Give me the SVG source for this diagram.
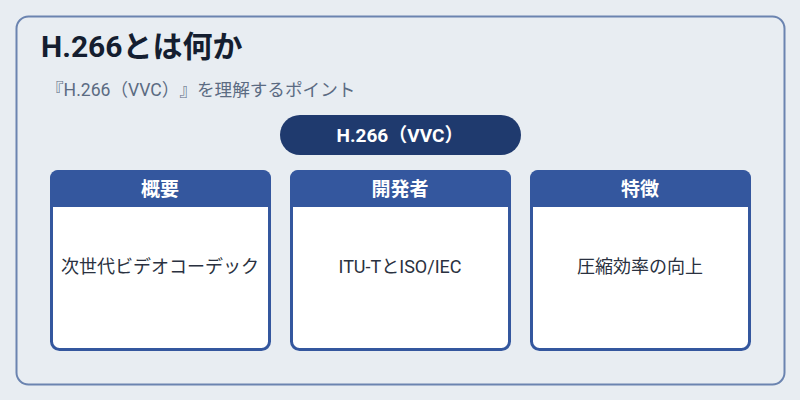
<svg xmlns="http://www.w3.org/2000/svg" width="800" height="400" viewBox="0 0 800 400">
<style>
text{font-family:Roboto,"Noto Sans CJK JP",sans-serif;text-spacing-trim:space-all}
.hdr{fill:#34579e}
.card{fill:#ffffff;stroke:#34579e;stroke-width:3}
.ht{fill:#ffffff;font-size:19px;font-weight:bold;text-anchor:middle}
.bt{fill:#2a3140;font-size:18px;text-anchor:middle}
</style>
<rect width="800" height="400" fill="#e8edf2"/>
<rect x="16.5" y="16.5" width="768" height="368" rx="12" fill="#e8edf2" stroke="#6b84b0" stroke-width="2"/>
<text x="41" y="57" font-size="30" font-weight="bold" fill="#141e30">H.266とは何か</text>
<text x="46" y="96" font-size="17.6" fill="#5b6b82">『H.266（VVC）』を理解するポイント</text>
<g id="root">
<rect x="280" y="115" width="241" height="40" rx="20" fill="#1f3a6e"/>
<text x="400" y="142" font-size="19" font-weight="bold" fill="#ffffff" text-anchor="middle">H.266（VVC）</text>
</g>
<g id="connectors"></g>
<g id="card1">
<rect class="card" x="51.5" y="171.5" width="218" height="178" rx="8"/>
<path class="hdr" d="M50,206 V178 a8,8 0 0 1 8,-8 H263 a8,8 0 0 1 8,8 V207 H50 Z"/>
<text class="ht" x="160" y="196">概要</text>
<text class="bt" x="160" y="273">次世代ビデオコーデック</text>
</g>
<g id="card2">
<rect class="card" x="291.5" y="171.5" width="218" height="178" rx="8"/>
<path class="hdr" d="M290,206 V178 a8,8 0 0 1 8,-8 H503 a8,8 0 0 1 8,8 V207 H290 Z"/>
<text class="ht" x="400" y="196">開発者</text>
<text class="bt" x="400" y="273">ITU-TとISO/IEC</text>
</g>
<g id="card3">
<rect class="card" x="531.5" y="171.5" width="218" height="178" rx="8"/>
<path class="hdr" d="M530,206 V178 a8,8 0 0 1 8,-8 H743 a8,8 0 0 1 8,8 V207 H530 Z"/>
<text class="ht" x="640" y="196">特徴</text>
<text class="bt" x="640" y="273">圧縮効率の向上</text>
</g>
</svg>
